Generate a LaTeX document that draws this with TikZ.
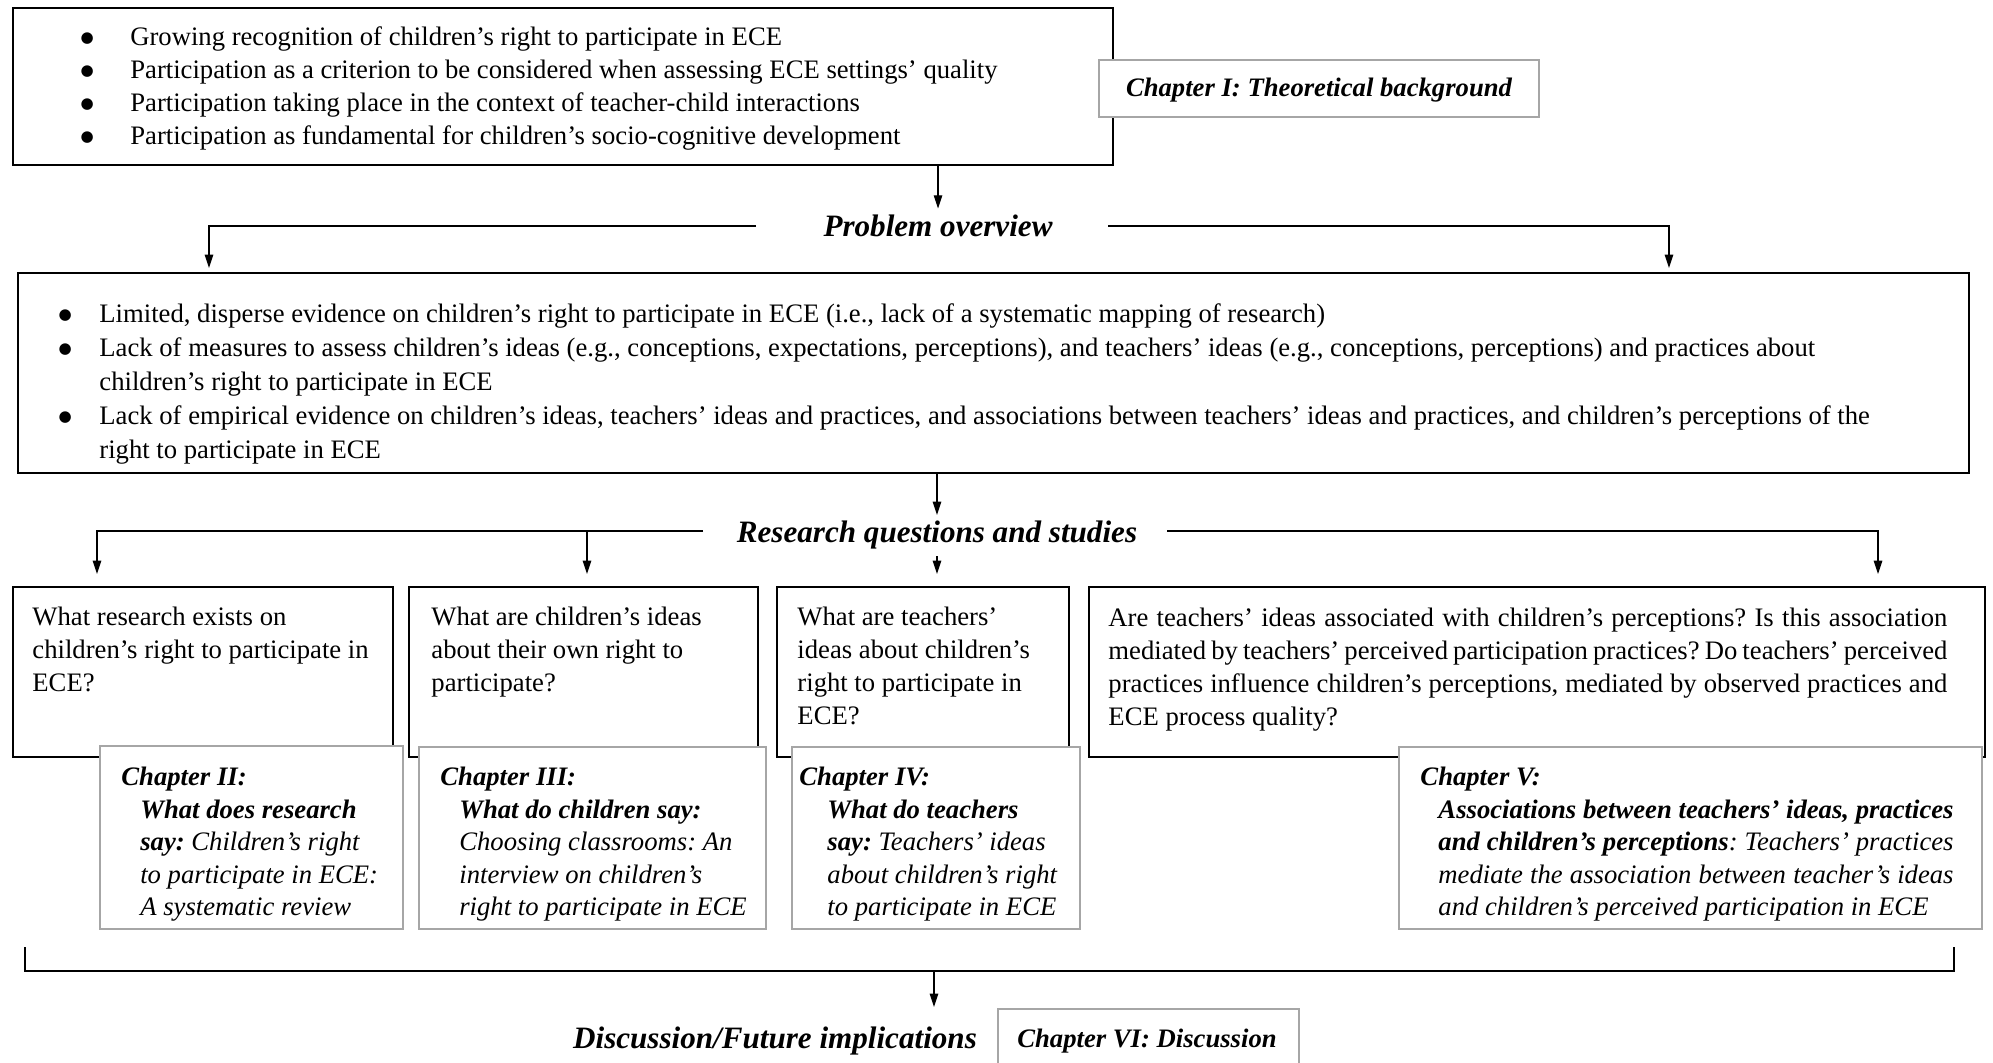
\documentclass[tikz,border=0pt]{standalone}
\usepackage{fontspec}
\setmainfont{Liberation Serif}
\newfontfamily\symfont{DejaVu Sans}
\usetikzlibrary{fit,calc,arrows.meta}
\definecolor{chapgray}{RGB}{166,166,166}
\newcommand{\bigbul}{\raisebox{1.3pt}{\symfont\fontsize{6.8}{6.8}\selectfont ●}}
\newcommand{\bulA}{\makebox[22pt][l]{\hspace*{-0.4pt}\bigbul}}
\newcommand{\bulB}{\makebox[18pt][l]{\hspace*{-0.4pt}\bigbul}}
\newcommand{\indB}{\hspace*{18pt}}
\frenchspacing
\begin{document}
\frenchspacing
\begin{tikzpicture}[x=0.45pt,y=-0.45pt]
\tikzset{
  blackbox/.style={draw=black, line width=0.9pt, fill=white, inner sep=0pt},
  graybox/.style={draw=chapgray, line width=1.3pt, fill=white, inner sep=0pt},
  txt/.style={inner sep=0pt, anchor=north west, align=left, font=\fontsize{12}{14.85}\selectfont\frenchspacing},
  chaptxt/.style={inner sep=0pt, anchor=north west, align=left, font=\fontsize{12}{14.6}\selectfont\itshape\frenchspacing},
  heading/.style={inner sep=2.7pt, font=\fontsize{14}{16}\selectfont\bfseries\itshape},
  chaptitle/.style={inner sep=0pt, font=\fontsize{12}{14}\selectfont\bfseries\itshape},
  conn/.style={line width=0.6pt},
  arr/.style={conn, -{Triangle[length=6pt,width=3.8pt]}},
}
\useasboundingbox (0,0) rectangle (1993,1062);
\clip (0,0) rectangle (1993,1062);

% ---- top box
\node[blackbox, fit={(13,8) (1113,165)}] (tb) {};
\node[txt] (tbt) at (81,21.5) {\strut\bulA Growing recognition of children’s right to participate in ECE\\
\bulA Participation as a criterion to be considered when assessing ECE settings’ quality\\
\bulA Participation taking place in the context of teacher-child interactions\\
\bulA Participation as fundamental for children’s socio-cognitive development};
\node[graybox, fit={(1099,60) (1539,117)}] (ch1) {};
\node[chaptitle] (ch1t) at (1319,90) {Chapter I: Theoretical background};

% ---- problem overview
\node[heading] (po) at (938,226) {Problem overview};
\node[blackbox, fit={(18,273) (1969,473)}] (pb) {};
\node[txt, font=\fontsize{12}{15.3}\selectfont] (pbt) at (59,298) {\strut\bulB Limited, disperse evidence on children’s right to participate in ECE (i.e., lack of a systematic mapping of research)\\
\bulB Lack of measures to assess children’s ideas (e.g., conceptions, expectations, perceptions), and teachers’ ideas (e.g., conceptions, perceptions) and practices about\\
\indB children’s right to participate in ECE\\
\bulB Lack of empirical evidence on children’s ideas, teachers’ ideas and practices, and associations between teachers’ ideas and practices, and children’s perceptions of the\\
\indB right to participate in ECE};

% ---- research questions
\node[heading] (rq) at (937,535.5) {Research questions and studies};
\coordinate (rqline) at ($(rq.center)+(0,-4.5)$);
\node[blackbox, fit={(13,587) (393,757)}] (rq1) {};
\node[blackbox, fit={(409,587) (758,757)}] (rq2) {};
\node[blackbox, fit={(777,587) (1069,757)}] (rq3) {};
\node[blackbox, fit={(1089,587) (1985,757)}] (rq4) {};
\node[txt] (rq1t) at (32,602) {\strut What research exists on\\ children’s right to participate in\\ ECE?};
\node[txt] (rq2t) at (431,602) {\strut What are children’s ideas\\ about their own right to\\ participate?};
\node[txt] (rq3t) at (797,602) {\strut What are teachers’\\ ideas about children’s\\ right to participate in\\ ECE?};
\node[txt] (rq4t) at (1108,603) {\strut\makebox[377.5pt][s]{Are teachers’ ideas associated with children’s perceptions? Is this association}\\
\makebox[377.5pt][s]{mediated by teachers’ perceived participation practices? Do teachers’ perceived}\\
\makebox[377.5pt][s]{practices influence children’s perceptions, mediated by observed practices and}\\
ECE process quality?};

% ---- chapter boxes
\node[graybox, fit={(100,746) (403,929)}] (ch2) {};
\node[graybox, fit={(419,747) (766,929)}] (ch3) {};
\node[graybox, fit={(792,747) (1080,929)}] (ch4) {};
\node[graybox, fit={(1399,747) (1982,929)}] (ch5) {};
\node[chaptxt] (ch2t) at (121,762.5) {\strut\bfseries Chapter II:\\
\hspace*{8.5pt}\bfseries What does research\\
\hspace*{8.5pt}\textbf{say:} Children’s right\\
\hspace*{8.5pt}to participate in ECE:\\
\hspace*{8.5pt}A systematic review};
\node[chaptxt] (ch3t) at (440,762.5) {\strut\bfseries Chapter III:\\
\hspace*{8.5pt}\bfseries What do children say:\\
\hspace*{8.5pt}Choosing classrooms: An\\
\hspace*{8.5pt}interview on children’s\\
\hspace*{8.5pt}right to participate in ECE};
\node[chaptxt] (ch4t) at (799,762.5) {\strut\bfseries Chapter IV:\\
\hspace*{12.6pt}\bfseries What do teachers\\
\hspace*{12.6pt}\textbf{say:} Teachers’ ideas\\
\hspace*{12.6pt}about children’s right\\
\hspace*{12.6pt}to participate in ECE};
\node[chaptxt] (ch5t) at (1420,762.5) {\strut\bfseries Chapter V:\\
\hspace*{8.1pt}\makebox[231.8pt][s]{\bfseries Associations between teachers’ ideas, practices}\\
\hspace*{8.1pt}\makebox[231.8pt][s]{\textbf{and children’s perceptions}: Teachers’ practices}\\
\hspace*{8.1pt}\makebox[231.8pt][s]{mediate the association between teacher’s ideas}\\
\hspace*{8.1pt}and children’s perceived participation in ECE};

% ---- discussion
\node[heading] (disc) at (775,1041.5) {Discussion/Future implications};
\node[graybox, fit={(998,1009) (1299,1085)}] (ch6) {};
\node[chaptitle] (ch6t) at (1147,1041.5) {Chapter VI: Discussion};

% ---- connectors
\draw[arr] (po.north |- tb.south) -- (po.north);
\draw[arr, shorten >=1.8pt] ($(po.center)+(-182,0)$) -| ($(pb.north west)+(192,0)$);
\draw[arr, shorten >=1.8pt] ($(po.center)+(170,0)$) -| ($(pb.north east)+(-301,0)$);
\draw[arr] (rq.north |- pb.south) -- (rq.north);

\coordinate (a1) at ($(rq1.north west)+(85,0)$);
\coordinate (a2) at ($(rq2.north west)+(179,0)$);
\coordinate (a4) at ($(rq4.north west)+(790,0)$);
\draw[arr, shorten >=5.4pt] ($(rqline)+(-234,0)$) -| (a1);
\draw[arr, shorten >=5.4pt] (a2 |- rqline) -- (a2);
\draw[arr, shorten >=5.4pt] ($(rqline)+(230,0)$) -| (a4);
\draw[arr, shorten >=5.4pt] (rq.south) -- (rq.south |- rq3.north);

\coordinate (bl) at (25,947);
\coordinate (br) at (1954,947);
\coordinate (bm) at (934,971);
\coordinate (dtip) at (934,1007);
\draw[line width=0.75pt] (bl) -- (bl |- bm) -- (br |- bm) -- (br);
\draw[arr] (bm) -- (dtip);
\end{tikzpicture}
\end{document}
